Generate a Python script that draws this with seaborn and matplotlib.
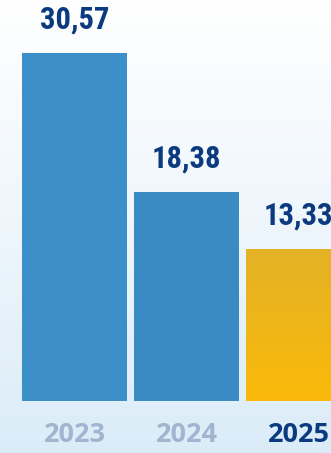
import matplotlib
matplotlib.use("Agg")
import matplotlib.pyplot as plt
import matplotlib.colors as mcolors
import numpy as np
import seaborn as sns

years = ["2023", "2024", "2025"]
values = [30.57, 18.38, 13.33]
bar_colors = ["#3d8fca", "#3a8ac4", "#f2b416"]
year_colors = ["#a1b4d0", "#a1b4d0", "#0b3a80"]
value_color = "#0b3a80"

sns.set_style("white")
plt.rcParams["font.family"] = ["Roboto Condensed", "DejaVu Sans"]

fig = plt.figure(figsize=(3.31, 4.53), dpi=100)
ax = fig.add_axes([0, 0, 1, 1])

sns.barplot(x=years, y=values, hue=years, palette=bar_colors, legend=False,
            width=0.9375, saturation=1, linewidth=0, ax=ax, zorder=2)

xlim = (-0.665, 2.29)
ylim = (-4.57, 35.24)

# background gradient: white at top, light blue at the bottom
bg = mcolors.LinearSegmentedColormap.from_list("bg", ["#dbecf8", "#eef6fc", "#ffffff"])
grad = np.linspace(0, 1, 256).reshape(-1, 1)
ax.imshow(grad, cmap=bg, aspect="auto", origin="lower",
          extent=(xlim[0], xlim[1], ylim[0], ylim[1]), zorder=0)

# gold bar gets a soft vertical gradient
gold = mcolors.LinearSegmentedColormap.from_list("gold", ["#fbba0a", "#e3b226"])
bar = ax.patches[2]
x0, w, h = bar.get_x(), bar.get_width(), bar.get_height()
im = ax.imshow(grad, cmap=gold, aspect="auto", origin="lower",
               extent=(x0, x0 + w, 0, h), zorder=3)
im.set_clip_path(bar)

for i, (yr, v) in enumerate(zip(years, values)):
    ax.text(i, v + 2.95, f"{v:.2f}".replace(".", ","), ha="center", va="center",
            fontsize=22, fontweight="bold", color=value_color, zorder=4)
    ax.text(i, -3.0, yr, ha="center", va="center", fontsize=19.5,
            fontweight="bold", color=year_colors[i], family=["Open Sans", "DejaVu Sans"],
            zorder=4)

ax.set_xlim(*xlim)
ax.set_ylim(*ylim)
ax.axis("off")

fig.savefig("out.png", dpi=100)
